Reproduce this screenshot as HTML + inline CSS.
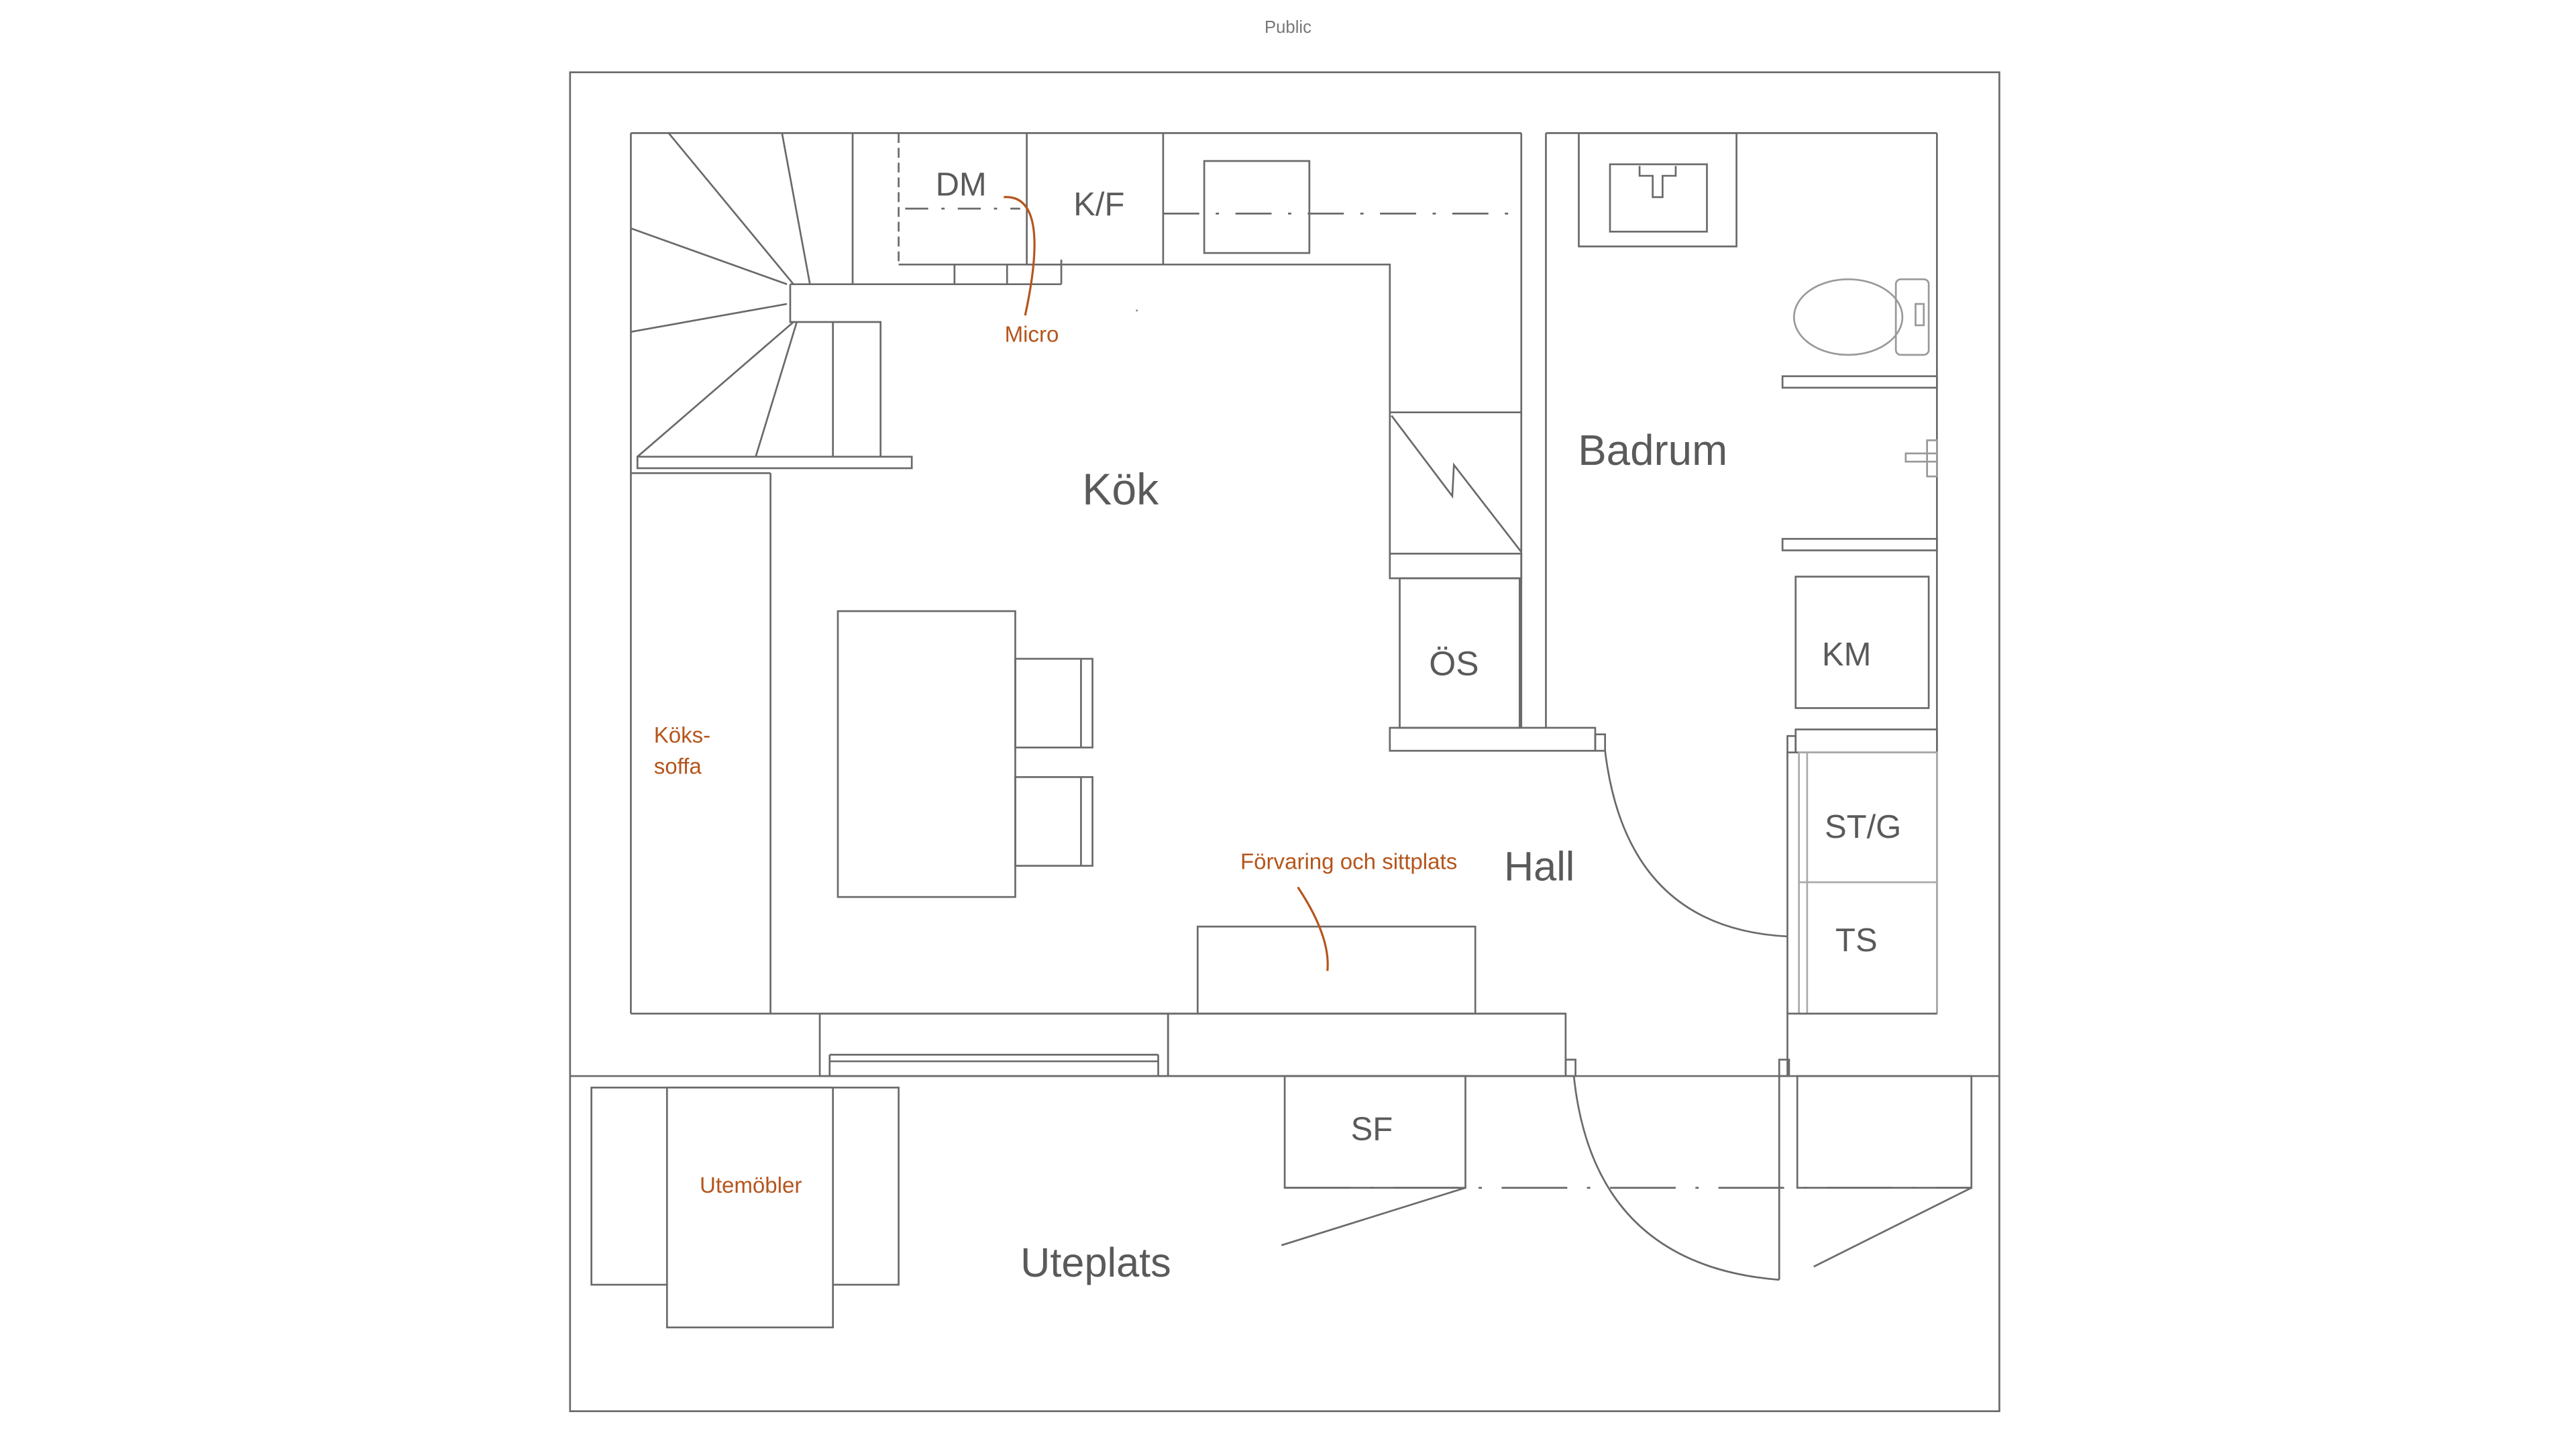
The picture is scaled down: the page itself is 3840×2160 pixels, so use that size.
<!DOCTYPE html>
<html><head><meta charset="utf-8"><style>
html,body{margin:0;padding:0;background:#fff;}
svg{display:block;}
text{font-family:"Liberation Sans",sans-serif;}
</style></head><body>
<svg width="3840" height="2160" viewBox="0 0 1568 882" preserveAspectRatio="none" xmlns="http://www.w3.org/2000/svg">
<g fill="none" stroke="#6a6a6a" stroke-width="1.1">
<rect x="347" y="44" width="870" height="815"/>
<line x1="347" y1="655" x2="1217" y2="655"/>
<line x1="384" y1="81" x2="926" y2="81"/>
<line x1="384" y1="81" x2="384" y2="617"/>
<line x1="384" y1="617" x2="953" y2="617"/>
<line x1="926" y1="81" x2="926" y2="443"/>
<line x1="941" y1="81" x2="941" y2="443"/>
<line x1="941" y1="81" x2="1179" y2="81"/>
<line x1="1179" y1="81" x2="1179" y2="617"/>
<line x1="519" y1="81" x2="519" y2="173"/>
<polyline points="481,173 646,173"/>
<polyline points="481,173 481,196 536,196 536,278"/>
<line x1="507" y1="196" x2="507" y2="278"/>
<rect x="388" y="278" width="167" height="7"/>
<line x1="407" y1="81" x2="483" y2="173"/>
<line x1="476" y1="81" x2="493" y2="173"/>
<line x1="384" y1="139" x2="479" y2="173"/>
<line x1="384" y1="202" x2="479" y2="185"/>
<line x1="388" y1="278" x2="483" y2="196"/>
<line x1="460" y1="278" x2="485" y2="196"/>
<line x1="547" y1="81" x2="547" y2="161" stroke-dasharray="6 3"/>
<line x1="625" y1="81" x2="625" y2="161"/>
<line x1="547" y1="161" x2="646" y2="161"/>
<line x1="551" y1="127" x2="621" y2="127" stroke-dasharray="14 8 2 8"/>
<line x1="581" y1="161" x2="581" y2="173"/>
<line x1="613" y1="161" x2="613" y2="173"/>
<line x1="646" y1="158" x2="646" y2="173"/>
<line x1="708" y1="81" x2="708" y2="161"/>
<polyline points="625,161 846,161 846,338"/>
<rect x="733" y="98" width="64" height="56"/>
<line x1="708" y1="130" x2="926" y2="130" stroke-dasharray="22 10 2 10"/>
<circle cx="692" cy="189" r="0.6" fill="#888" stroke="none"/>
<line x1="846" y1="251" x2="926" y2="251"/>
<polyline points="847,253 884,302 885,283 926,336"/>
<rect x="846" y="337" width="80" height="15"/>
<rect x="852" y="352" width="73" height="91"/>
<rect x="846" y="443" width="125" height="14"/>
<rect x="971" y="447" width="6" height="10"/>
<rect x="961" y="81" width="96" height="69"/>
<rect x="980" y="100" width="59" height="41"/>
<path d="M998 101 v6 h8 v13 h6 v-13 h8 v-6"/>
<ellipse cx="1125" cy="193" rx="33" ry="23" stroke="#999"/>
<rect x="1154" y="170" width="20" height="46" rx="3" stroke="#999"/>
<rect x="1166" y="185" width="5" height="13" stroke="#999"/>
<rect x="1085" y="229" width="94" height="7"/>
<rect x="1085" y="328" width="94" height="7"/>
<rect x="1160" y="276" width="19" height="5" stroke="#999"/>
<rect x="1173" y="268" width="6" height="22" stroke="#999"/>
<rect x="1093" y="351" width="81" height="80"/>
<rect x="1093" y="444" width="86" height="14"/>
<rect x="1088" y="448" width="5" height="10"/>
<path d="M977 457 Q 990 565 1088 570"/>
<line x1="1088" y1="458" x2="1088" y2="570"/>
<g stroke="#aaa">
<rect x="1095" y="458" width="84" height="159"/>
<line x1="1100" y1="458" x2="1100" y2="617"/>
<line x1="1095" y1="537" x2="1179" y2="537"/>
</g>
<polyline points="1088,570 1088,617"/>
<polyline points="1088,655 1088,617 1179,617"/>
<rect x="1083" y="645" width="6" height="10"/>
<line x1="469" y1="288" x2="469" y2="617"/>
<line x1="384" y1="288" x2="469" y2="288"/>
<rect x="510" y="372" width="108" height="174"/>
<rect x="618" y="401" width="47" height="54"/>
<line x1="658" y1="401" x2="658" y2="455"/>
<rect x="618" y="473" width="47" height="54"/>
<line x1="658" y1="473" x2="658" y2="527"/>
<rect x="729" y="564" width="169" height="53"/>
<rect x="499" y="617" width="212" height="38"/>
<line x1="505" y1="642" x2="705" y2="642"/>
<line x1="505" y1="646" x2="705" y2="646"/>
<line x1="505" y1="642" x2="505" y2="655"/>
<line x1="705" y1="642" x2="705" y2="655"/>
<rect x="711" y="617" width="242" height="38"/>
<rect x="953" y="645" width="6" height="10"/>
<rect x="782" y="655" width="110" height="68"/>
<line x1="782" y1="723" x2="1199" y2="723" stroke-dasharray="40 12 2 12"/>
<line x1="892" y1="723" x2="780" y2="758"/>
<path d="M958 655 Q 970 770 1083 779"/>
<line x1="1083" y1="655" x2="1083" y2="779"/>
<rect x="1094" y="655" width="106" height="68"/>
<line x1="1200" y1="723" x2="1104" y2="771"/>
<rect x="360" y="662" width="187" height="120"/>
<rect x="406" y="662" width="101" height="146" fill="#fff"/>
</g>
<g fill="none" stroke="#b5551c" stroke-width="1.3">
<path d="M611 120 Q 640 118 624 192"/>
<path d="M790 540 Q 810 570 808 591"/>
</g>
<g fill="#5a5a5a" text-anchor="middle">
<text x="784" y="20" font-size="10.5" fill="#777">Public</text>
<text x="585" y="119" font-size="20">DM</text>
<text x="669" y="131" font-size="20">K/F</text>
<text x="682" y="307" font-size="27">Kök</text>
<text x="1006" y="283" font-size="26">Badrum</text>
<text x="885" y="411" font-size="21">ÖS</text>
<text x="1124" y="405" font-size="20">KM</text>
<text x="937" y="536" font-size="25">Hall</text>
<text x="1134" y="510" font-size="20">ST/G</text>
<text x="1130" y="579" font-size="20">TS</text>
<text x="835" y="694" font-size="20">SF</text>
<text x="667" y="777" font-size="25">Uteplats</text>
</g>
<g fill="#b5551c" font-size="13.5">
<text x="628" y="208" text-anchor="middle">Micro</text>
<text x="398" y="452">Köks-</text>
<text x="398" y="471">soffa</text>
<text x="821" y="529" text-anchor="middle">Förvaring och sittplats</text>
<text x="457" y="726" text-anchor="middle">Utemöbler</text>
</g>
</svg>
</body></html>
